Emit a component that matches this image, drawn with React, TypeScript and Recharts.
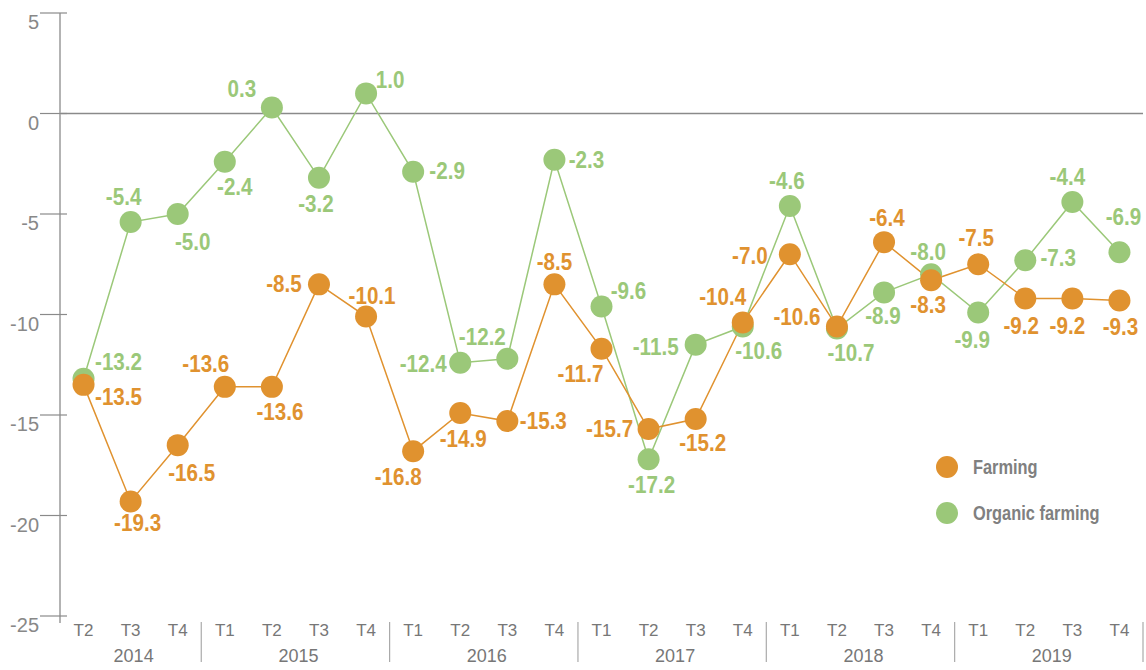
import React from 'react';
import { LineChart, Line, XAxis, YAxis, ReferenceLine, Legend } from 'recharts';

const quarters = [
  'T2', 'T3', 'T4',
  'T1', 'T2', 'T3', 'T4',
  'T1', 'T2', 'T3', 'T4',
  'T1', 'T2', 'T3', 'T4',
  'T1', 'T2', 'T3', 'T4',
  'T1', 'T2', 'T3', 'T4',
];
const years = [
  '2014', '2014', '2014',
  '2015', '2015', '2015', '2015',
  '2016', '2016', '2016', '2016',
  '2017', '2017', '2017', '2017',
  '2018', '2018', '2018', '2018',
  '2019', '2019', '2019', '2019',
];
const farming = [
  -13.5, -19.3, -16.5,
  -13.6, -13.6, -8.5, -10.1,
  -16.8, -14.9, -15.3, -8.5,
  -11.7, -15.7, -15.2, -10.4,
  -7.0, -10.6, -6.4, -8.3,
  -7.5, -9.2, -9.2, -9.3,
];
const organicFarming = [
  -13.2, -5.4, -5.0,
  -2.4, 0.3, -3.2, 1.0,
  -2.9, -12.4, -12.2, -2.3,
  -9.6, -17.2, -11.5, -10.6,
  -4.6, -10.7, -8.9, -8.0,
  -9.9, -7.3, -4.4, -6.9,
];
const yTicks = [-25, -20, -15, -10, -5, 0, 5];

// where each value label sits, relative to its dot [dx, dy]
const farmingLabelOffsets = [
  [35, 12], [7, 22], [14, 28],
  [-19, -23], [8, 25], [-35, 0], [6, -21],
  [-15, 26], [3, 26], [36, 0], [0, -22],
  [-21, 25], [-39, 0], [7, 24], [-20, -26],
  [-40, 2], [-40, -10], [3, -24], [-3, 25],
  [-2, -26], [-4, 28], [-5, 28], [1, 27],
];
const organicLabelOffsets = [
  [35, -17], [-7, -25], [15, 28],
  [10, 25], [-30, -19], [-3, 26], [24, -13],
  [34, -1], [-37, 1], [-25, -22], [32, 0],
  [27, -16], [3, 26], [-40, 2], [16, 24],
  [-3, -25], [14, 24], [-1, 24], [-3, -22],
  [-6, 27], [33, -2], [-5, -25], [4, -35],
];

const ORANGE = '#E0922F';
const GREEN = '#9BC879';
const FONT = "'Liberation Sans', Arial, sans-serif";

const WIDTH = 1146;
const HEIGHT = 670;
const PLOT_LEFT = 60;
const PLOT_RIGHT = 1143;
const PLOT_TOP = 13;
const PLOT_BOTTOM = 616;
const BAND = (PLOT_RIGHT - PLOT_LEFT) / quarters.length;

const data = quarters.map((q, i) => ({
  key: `${years[i]} ${q}`,
  farming: farming[i],
  organic: organicFarming[i],
}));

// no condensed font installed, so squeeze bold text horizontally
const NarrowText = ({ x, y, anchor = 'middle', size, color, squeeze, children }: any) => (
  <text
    transform={`translate(${x} ${y}) scale(${squeeze} 1)`}
    x={0}
    y={0}
    textAnchor={anchor}
    dominantBaseline="central"
    fontSize={size}
    fontWeight="bold"
    fill={color}
    fontFamily={FONT}
  >
    {children}
  </text>
);

const QuarterTick = (props: any) => {
  const { x, payload } = props;
  const i = payload.index;
  const year = years[i];
  const first = years.indexOf(year);
  const last = years.lastIndexOf(year);
  const center = x + ((first + last) / 2 - i) * BAND;
  return (
    <g>
      {i === 0 && (
        <line x1={x - BAND / 2} x2={x - BAND / 2} y1={PLOT_BOTTOM} y2={PLOT_BOTTOM + 7} stroke="#b3b3b3" strokeWidth={2} />
      )}
      <text x={x} y={PLOT_BOTTOM + 20} textAnchor="middle" fontSize={17} fill="#777" fontFamily={FONT}>
        {quarters[i]}
      </text>
      {i === last && (
        <line x1={x + BAND / 2} x2={x + BAND / 2} y1={PLOT_BOTTOM + 6} y2={PLOT_BOTTOM + 46} stroke="#aaa" strokeWidth={1.2} />
      )}
      {i === first && (
        <text x={center + 3} y={PLOT_BOTTOM + 46} textAnchor="middle" fontSize={18} fill="#777" fontFamily={FONT}>
          {year}
        </text>
      )}
    </g>
  );
};

const ValueTick = (props: any) => {
  const { y, payload } = props;
  return (
    <g>
      <line x1={40} x2={67} y1={y} y2={y} stroke="#8a8a8a" strokeWidth={1.2} />
      <text x={39} y={y + 16} textAnchor="end" fontSize={20} fill="#888" fontFamily={FONT}>
        {payload.value}
      </text>
    </g>
  );
};

const makeLabel = (offsets: number[][], color: string) => (props: any) => {
  const { x, y, index, value } = props;
  const [dx, dy] = offsets[index] || [0, -22];
  return (
    <NarrowText x={x + dx} y={y + dy} size={24} color={color} squeeze={0.86}>
      {Number(value).toFixed(1)}
    </NarrowText>
  );
};

const LegendContent = () => (
  <svg width={200} height={80}>
    <circle cx={12} cy={15} r={11} fill={ORANGE} />
    <NarrowText x={38} y={15} anchor="start" size={20} color="#808080" squeeze={0.82}>
      Farming
    </NarrowText>
    <circle cx={12} cy={61} r={11} fill={GREEN} />
    <NarrowText x={38} y={61} anchor="start" size={20} color="#808080" squeeze={0.82}>
      Organic farming
    </NarrowText>
  </svg>
);

const App = () => {
  return (
    <div style={{ position: 'absolute', left: 0, top: 0, width: WIDTH, height: HEIGHT, background: '#fff' }}>
      <LineChart
        width={WIDTH}
        height={HEIGHT}
        data={data}
        margin={{ top: PLOT_TOP, right: WIDTH - PLOT_RIGHT, bottom: 0, left: 0 }}
      >
        <XAxis
          dataKey="key"
          height={HEIGHT - PLOT_BOTTOM}
          axisLine={false}
          tickLine={false}
          interval={0}
          padding={{ left: BAND / 2, right: BAND / 2 }}
          tick={<QuarterTick />}
        />
        <YAxis
          width={PLOT_LEFT}
          domain={[-25, 5]}
          ticks={yTicks}
          interval={0}
          axisLine={{ stroke: '#b3b3b3', strokeWidth: 2 }}
          tickLine={false}
          tick={<ValueTick />}
        />
        <ReferenceLine y={0} stroke="#8a8a8a" strokeWidth={1.5} />
        <Legend
          layout="horizontal"
          verticalAlign="middle"
          content={<LegendContent />}
          wrapperStyle={{ position: 'absolute', left: 935, top: 452, width: 200, height: 80 }}
        />
        <Line
          dataKey="organic"
          name="Organic farming"
          stroke={GREEN}
          strokeWidth={1.5}
          dot={{ r: 11, fill: GREEN, stroke: 'none' }}
          activeDot={false}
          label={makeLabel(organicLabelOffsets, GREEN)}
          isAnimationActive={false}
        />
        <Line
          dataKey="farming"
          name="Farming"
          stroke={ORANGE}
          strokeWidth={1.5}
          dot={{ r: 11, fill: ORANGE, stroke: 'none' }}
          activeDot={false}
          label={makeLabel(farmingLabelOffsets, ORANGE)}
          isAnimationActive={false}
        />
      </LineChart>
    </div>
  );
};

export default App;
